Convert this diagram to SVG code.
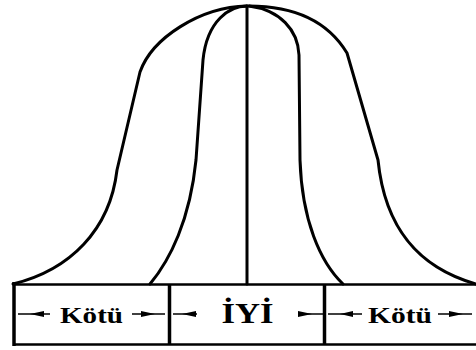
<svg xmlns="http://www.w3.org/2000/svg" width="476" height="350" viewBox="0 0 476 350">
<style>
.c{fill:none;stroke:#000;stroke-width:3;stroke-linecap:round;stroke-linejoin:round}
.b{fill:none;stroke:#000;stroke-width:2.5}
.v{fill:none;stroke:#000;stroke-width:3.5}
.al{stroke:#000;stroke-width:1.5}
.ah{fill:#000}
.t{font-family:"Liberation Serif","Times New Roman",serif;font-weight:bold;fill:#000;text-anchor:middle}
</style>
<rect width="476" height="350" fill="#fff"/>
<g id="curves">
<path class="c" d="M247,6 C200,7 152,38 140,72 L117,170 C110,230 70,270 13,284"/>
<path class="c" d="M247,6 C230,6 207,20 203,60 L196,160 C190,220 170,260 150,284"/>
<path class="c" d="M249,6 C280,10 298,30 299,55 L300,160 C302,220 320,262 343,284"/>
<path class="c" d="M249,6 C300,6 330,25 347,53 L378,160 C385,230 420,268 476,284"/>
<line class="c" x1="247" y1="6" x2="247" y2="284"/>
</g>
<g id="box">
<line class="b" x1="13" y1="284.5" x2="476" y2="284.5"/>
<line class="b" x1="13" y1="344.5" x2="476" y2="344.5"/>
<line class="v" x1="14" y1="282" x2="14" y2="346"/>
<line class="v" x1="169.5" y1="284" x2="169.5" y2="345"/>
<line class="v" x1="324.5" y1="284" x2="324.5" y2="345"/>
</g>
<g id="kotu-left">
<line class="al" x1="18" y1="314" x2="50" y2="314"/>
<polygon class="ah" points="30,314 44,311 44,317"/>
<text class="t" x="91.5" y="322.5" font-size="23" textLength="63" lengthAdjust="spacingAndGlyphs">Kötü</text>
<line class="al" x1="132" y1="314" x2="165" y2="314"/>
<polygon class="ah" points="155,314 141,311 141,317"/>
</g>
<g id="iyi">
<line class="al" x1="173" y1="314" x2="197" y2="314"/>
<polygon class="ah" points="182,314 196,311 196,317"/>
<text class="t" x="247.5" y="323" font-size="30" textLength="52" lengthAdjust="spacingAndGlyphs">İYİ</text>
<line class="al" x1="298" y1="314" x2="323" y2="314"/>
<polygon class="ah" points="312,314 298,311 298,317"/>
</g>
<g id="kotu-right">
<line class="al" x1="328" y1="314" x2="362" y2="314"/>
<polygon class="ah" points="340,314 353,311 353,317"/>
<text class="t" x="400" y="322.5" font-size="23" textLength="64" lengthAdjust="spacingAndGlyphs">Kötü</text>
<line class="al" x1="438" y1="314" x2="472" y2="314"/>
<polygon class="ah" points="463,314 449,311 449,317"/>
</g>
</svg>
